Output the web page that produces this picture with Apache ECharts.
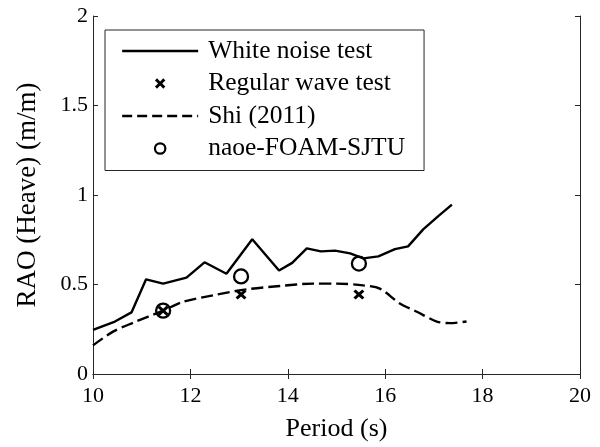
<!DOCTYPE html>
<html>
<head>
<meta charset="utf-8">
<script src="https://cdn.jsdelivr.net/npm/echarts@6/dist/echarts.min.js"></script>
<style>html,body{margin:0;padding:0;background:#fff}#c{width:600px;height:447px}</style>
</head>
<body>
<div id="c"></div>
<script>
// ---- data ----
const whiteNoisePeriod = [10.0, 10.45, 10.79, 11.09, 11.44, 11.92, 12.29, 12.74, 13.27, 13.82, 14.09, 14.39, 14.68, 14.97, 15.28, 15.55, 15.86, 16.2, 16.47, 16.78, 17.09, 17.37];
const whiteNoiseRAO    = [0.247, 0.293, 0.344, 0.529, 0.505, 0.538, 0.624, 0.56, 0.753, 0.578, 0.621, 0.702, 0.685, 0.689, 0.674, 0.646, 0.657, 0.698, 0.713, 0.808, 0.882, 0.946];
const shiPeriod = [10.0, 10.42, 10.83, 11.44, 11.85, 12.47, 13.16, 13.84, 14.52, 15.0, 15.55, 15.89, 16.3, 16.65, 17.06, 17.33, 17.67];
const shiRAO    = [0.16, 0.238, 0.287, 0.354, 0.403, 0.44, 0.473, 0.492, 0.505, 0.505, 0.495, 0.477, 0.394, 0.348, 0.293, 0.284, 0.293];
const regularPeriod = [11.44, 13.04, 15.46];
const regularRAO    = [0.354, 0.444, 0.444];
const naoePeriod = [11.44, 13.04, 15.46];
const naoeRAO    = [0.354, 0.545, 0.617];
const xTicks = [10, 12, 14, 16, 18, 20];
const yTicks = [0, 0.5, 1, 1.5, 2];
const seriesNames = ['White noise test', 'Regular wave test', 'Shi (2011)', 'naoe-FOAM-SJTU'];

const pairs = (xs, ys) => xs.map((x, i) => [x, ys[i]]);
const FONT = 'Liberation Serif';
const AX = '#262626';
const XPATH = 'path://M2,0 L5,3 L8,0 L10,2 L7,5 L10,8 L8,10 L5,7 L2,10 L0,8 L3,5 L0,2 Z';
const DASH = [12, 5];

const axisCommon = {
  axisLine: { show: true, lineStyle: { color: AX, width: 1 } },
  axisTick: { show: true, inside: true, length: 5, lineStyle: { color: AX } },
  splitLine: { show: false }
};

const chart = echarts.init(document.getElementById('c'), null, { renderer: 'canvas' });
chart.setOption({
  backgroundColor: '#fff',
  animation: false,
  textStyle: { fontFamily: FONT, color: '#000' },
  grid: { left: 93, right: 20, top: 16, bottom: 69, containLabel: false },
  xAxis: [
    Object.assign({
      type: 'value', min: xTicks[0], max: xTicks[xTicks.length - 1], interval: 2,
      name: 'Period (s)', nameLocation: 'middle', nameGap: 42,
      nameTextStyle: { fontFamily: FONT, fontSize: 26, color: '#000' },
      axisLabel: { fontFamily: FONT, fontSize: 22, color: '#000', margin: 11 }
    }, axisCommon),
    Object.assign({
      type: 'value', position: 'top', min: xTicks[0], max: xTicks[xTicks.length - 1], interval: 2,
      axisLabel: { show: false }
    }, axisCommon)
  ],
  yAxis: [
    Object.assign({
      type: 'value', min: yTicks[0], max: yTicks[yTicks.length - 1], interval: 0.5,
      name: 'RAO (Heave) (m/m)', nameLocation: 'middle', nameGap: 52,
      nameTextStyle: { fontFamily: FONT, fontSize: 27, color: '#000' },
      axisLabel: { fontFamily: FONT, fontSize: 22, color: '#000', margin: 5 }
    }, axisCommon),
    Object.assign({
      type: 'value', position: 'right', min: yTicks[0], max: yTicks[yTicks.length - 1], interval: 0.5,
      axisLabel: { show: false }
    }, axisCommon)
  ],
  legend: {
    left: 105, top: 30, orient: 'vertical',
    padding: [8, 19, 9, 16],
    itemGap: 6.5, itemWidth: 76, itemHeight: 13,
    borderColor: AX, borderWidth: 1, backgroundColor: '#fff',
    textStyle: { fontFamily: FONT, fontSize: 25.5, color: '#000', padding: [0, 0, 0, 5] },
    data: [
      { name: seriesNames[0], itemStyle: { opacity: 0 }, lineStyle: { color: '#000', width: 2.3 } },
      { name: seriesNames[1], lineStyle: { opacity: 0 }, itemStyle: { color: '#000', borderWidth: 0 } },
      { name: seriesNames[2], itemStyle: { opacity: 0 }, lineStyle: { color: '#000', width: 2.3, type: [10, 5] } },
      { name: seriesNames[3], lineStyle: { opacity: 0 }, itemStyle: { color: 'transparent', borderColor: '#000', borderWidth: 2.2 } }
    ]
  },
  series: [
    {
      name: seriesNames[0], type: 'line', data: pairs(whiteNoisePeriod, whiteNoiseRAO),
      symbol: 'none', lineStyle: { color: '#000', width: 2.4 }, itemStyle: { color: '#000' }, z: 3
    },
    {
      name: seriesNames[2], type: 'line', data: pairs(shiPeriod, shiRAO), smooth: 0.3,
      symbol: 'none', lineStyle: { color: '#000', width: 2.4, type: DASH }, itemStyle: { color: '#000' }, z: 3
    },
    {
      name: seriesNames[3], type: 'line', data: pairs(naoePeriod, naoeRAO),
      symbol: 'circle', symbolSize: 14, showSymbol: true,
      lineStyle: { opacity: 0, width: 0 },
      itemStyle: { color: 'transparent', borderColor: '#000', borderWidth: 2.3 }, z: 4
    },
    {
      name: seriesNames[1], type: 'line', data: pairs(regularPeriod, regularRAO),
      symbol: XPATH, symbolSize: [11, 10], showSymbol: true,
      lineStyle: { opacity: 0, width: 0 },
      itemStyle: { color: '#000' }, z: 5
    }
  ]
});
</script>
</body>
</html>
